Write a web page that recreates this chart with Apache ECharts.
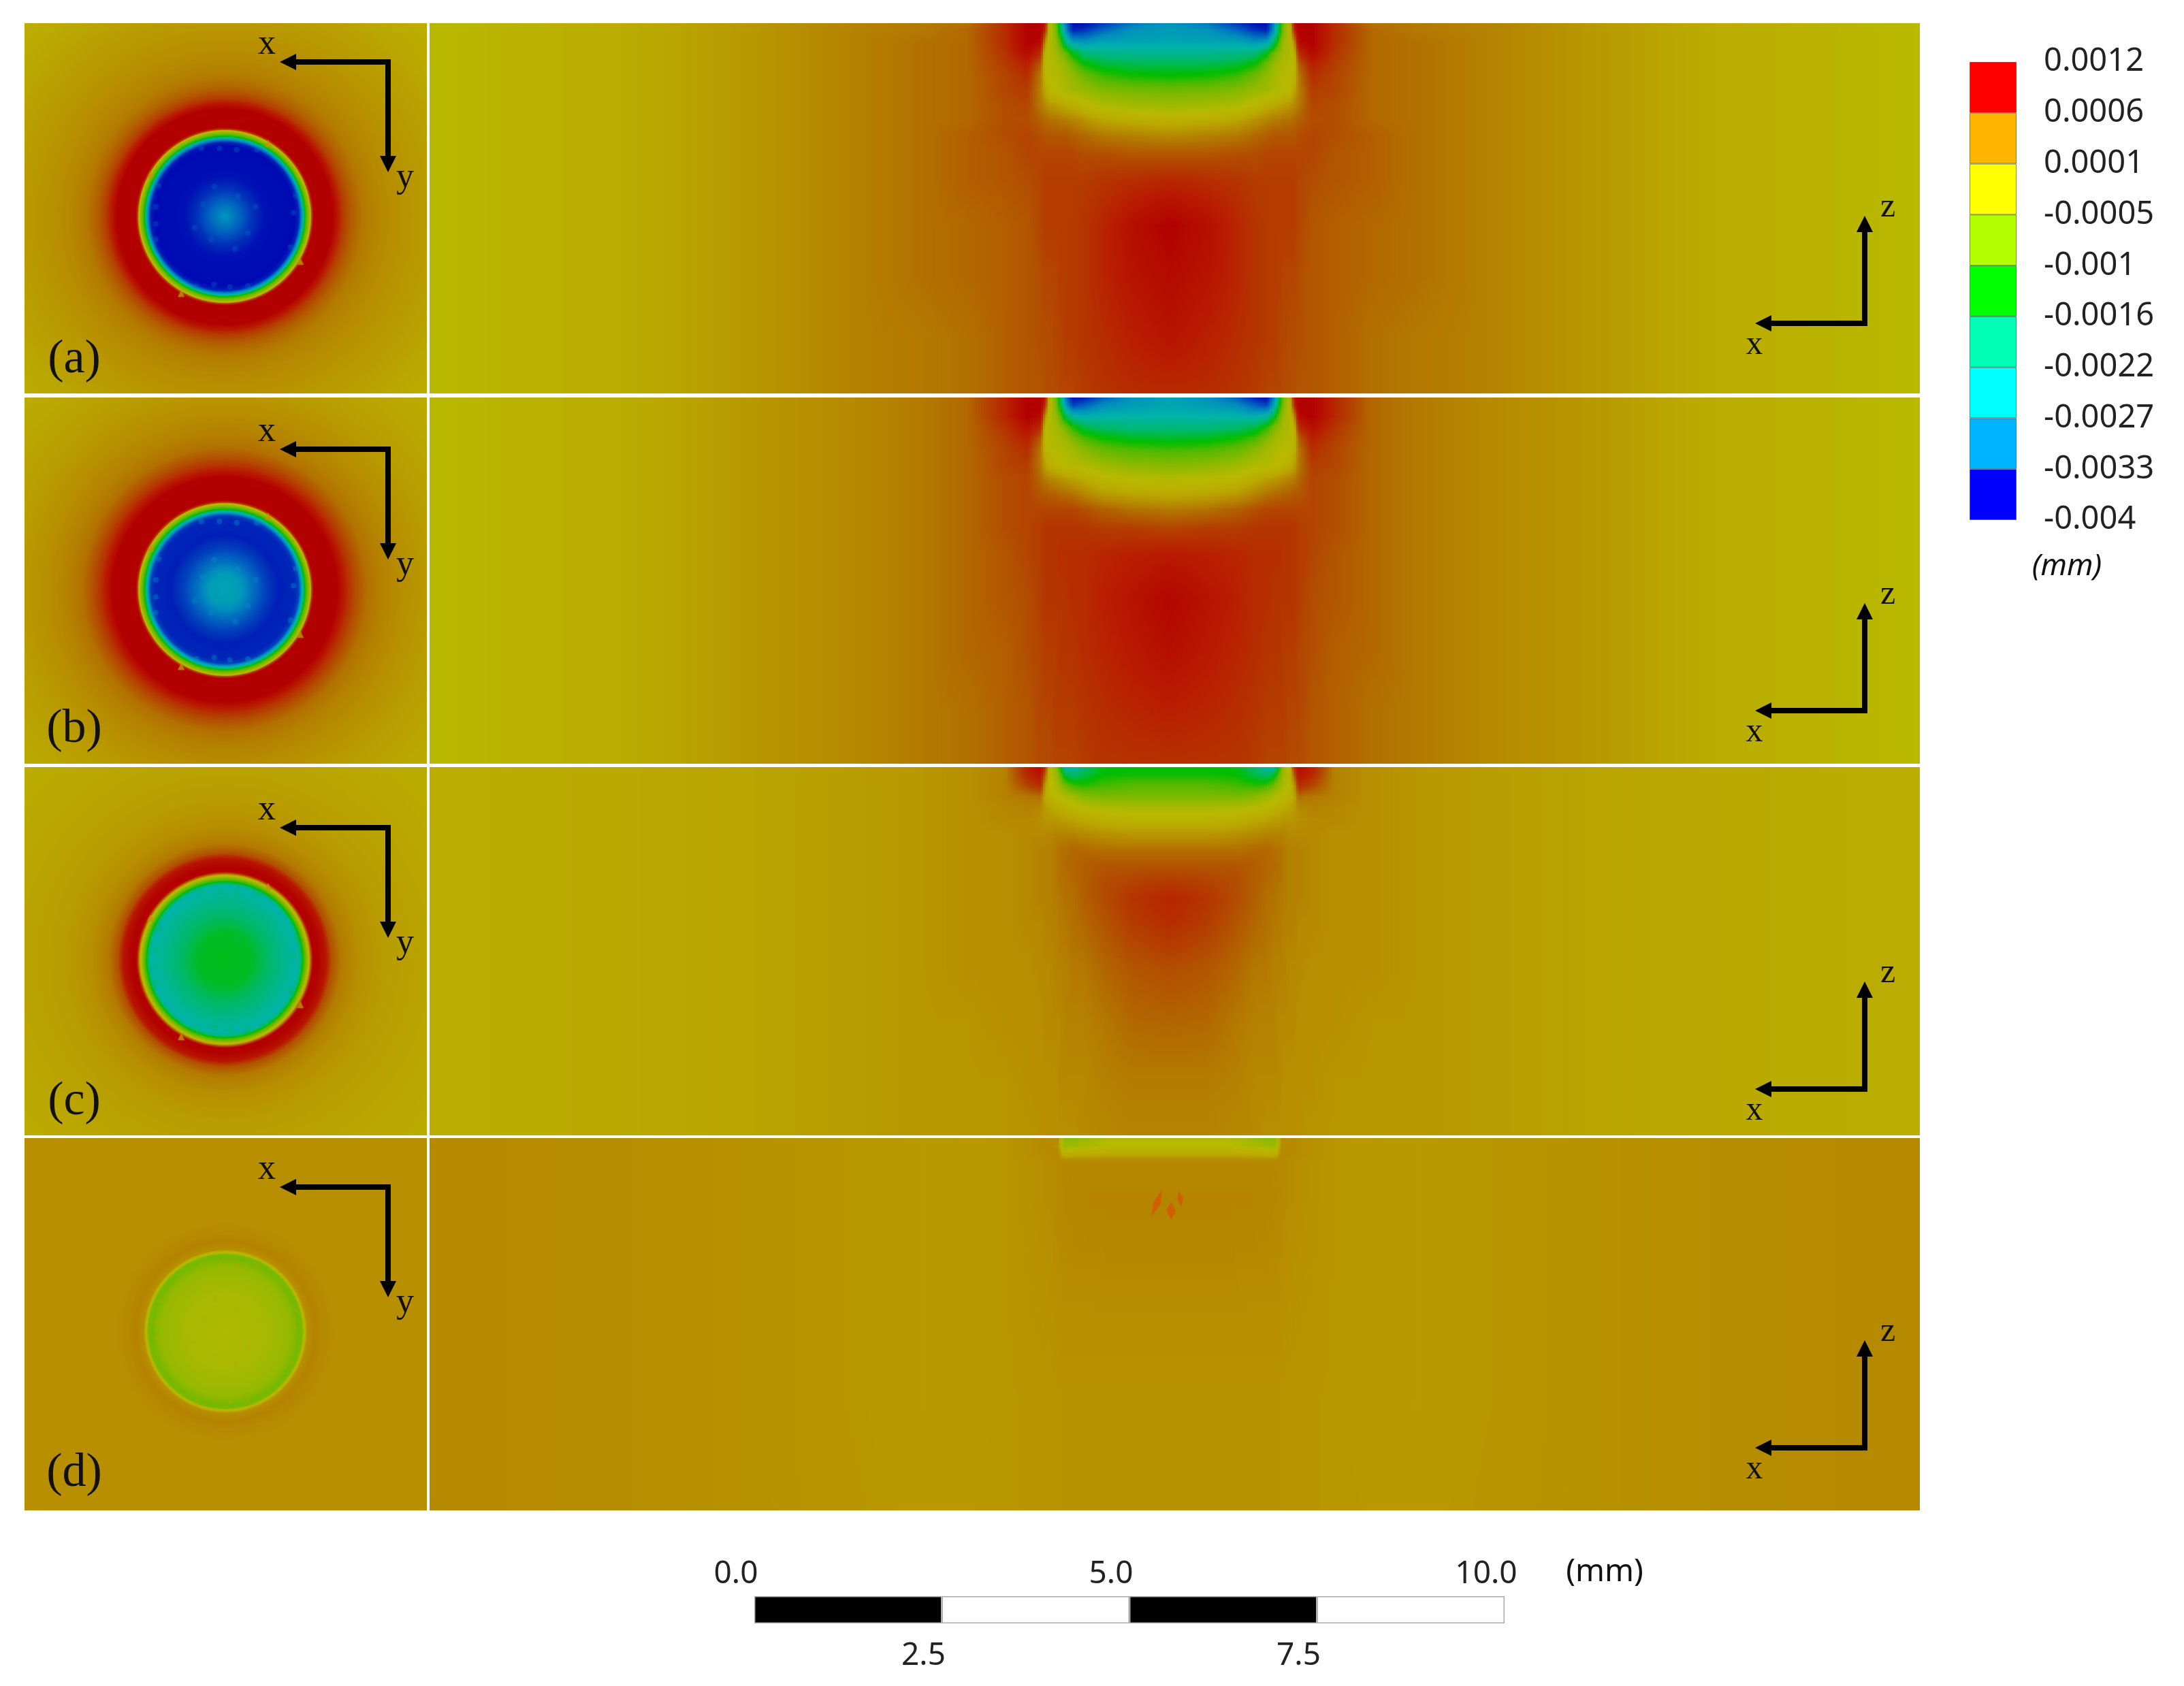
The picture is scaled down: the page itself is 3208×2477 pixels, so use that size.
<!DOCTYPE html>
<html>
<head>
<meta charset="utf-8">
<style>
html, body { margin: 0; padding: 0; background: #fff; }
#main { width: 3208px; height: 2477px; }
</style>
<script src="https://cdn.jsdelivr.net/npm/echarts@6/dist/echarts.min.js"></script>
</head>
<body>
<div id="main"></div>
<script>
// all displacement values below are in 1e-4 mm, distances in mm

// contour legend
var legendTicks = ['0.0012', '0.0006', '0.0001', '-0.0005', '-0.001', '-0.0016', '-0.0022', '-0.0027', '-0.0033', '-0.004'];
var legendColors = ['#ff0000', '#ffb400', '#ffff00', '#b4ff00', '#00ff00', '#00ffb4', '#00ffff', '#00b4ff', '#0000ff'];

// colours as they appear in the (darker) plots
var fieldLevels = [-38, -33, -28, -23, -18, -14, -11, -7, -3, 0, 1.5, 3, 5, 7, 9, 12];
var fieldColors = [
    [0, 10, 180], [0, 80, 190], [0, 140, 190], [0, 180, 170], [0, 185, 100], [0, 190, 0], [80, 185, 0], [140, 185, 0],
    [185, 185, 0], [186, 170, 0], [184, 150, 0], [180, 130, 0], [178, 95, 0], [180, 60, 0], [185, 30, 0], [178, 0, 0]
];

// x-z sections, half table (the section is mirrored about x = 0)
var sideOffsets = [0, 0.5, 0.9, 1.15, 1.3, 1.4, 1.46, 1.52, 1.6, 1.66, 1.72, 1.9, 2.2, 2.7, 3.3, 4.2, 5.5, 7.5, 10.05];
var sideDepths = [0, 0.1, 0.25, 0.4, 0.55, 0.7, 0.9, 1.1, 1.3, 1.5, 1.75, 2.1, 2.7, 3.4, 4.2, 5.0];

var sideA = [
    [-27, -30, -35, -38, -38, -28, -18, -9, -3, 10, 12, 12, 8, 4, 3.5, 3, 1.5, -0.5, -3],
    [-26, -27, -31, -35, -36, -26, -16, -8, -3, 8, 12, 12, 8, 4.5, 3.5, 3, 1.5, -0.5, -3],
    [-25, -25, -25, -27, -26, -18, -11, -6, -3.5, 2, 11, 12, 8, 4.5, 4, 3, 1.5, -0.5, -3],
    [-21, -21, -20.5, -19, -14.5, -9, -7, -5, -4, -2, 8, 11, 7.5, 4.5, 4, 3, 1.5, -0.5, -3],
    [-17, -17, -16, -13.5, -9, -6, -5, -4, -3.5, -3, 5, 9, 7, 4.5, 4, 3, 1.5, -0.5, -3],
    [-14, -13.5, -12, -9, -6.5, -5, -4, -3.5, -3.5, -2, 3.5, 8, 6.5, 4.5, 4, 3, 1.5, -0.5, -3],
    [-9, -8.5, -7.5, -6, -5, -4, -3.5, -3, -2.5, 0, 3, 7, 6.5, 4.5, 4, 3, 1.5, -0.5, -3],
    [-5.5, -5, -4, -2, -0.5, 0, 0.5, 1, 1.5, 2.5, 3.5, 6.5, 6, 4.5, 4, 3, 1.5, -0.5, -3],
    [-1, -0.5, 0.5, 2, 3, 3.5, 3.5, 4, 4, 4.5, 5, 6, 6, 4.5, 4, 3, 1.5, -0.5, -3],
    [2.5, 3, 3.5, 4.5, 5, 5.5, 5.5, 5.5, 5.5, 5.5, 6, 6.5, 6, 5, 4, 3, 1.5, -0.5, -3],
    [5.5, 5.5, 6, 6, 6.5, 6.5, 6.5, 6.5, 6.5, 6.5, 6.5, 6.5, 5.5, 5, 4, 3, 1.5, -0.5, -3],
    [8.5, 8, 7.5, 7, 7, 7, 7, 7, 7, 7, 6.5, 6, 5.5, 5, 4, 3, 1.5, -0.5, -3],
    [12, 10.5, 8.5, 7.5, 7, 7, 7, 7, 7, 7, 6.5, 5.5, 5, 4.5, 4, 3, 1.5, -0.5, -3],
    [11, 10, 8.5, 7.5, 7, 7, 7, 6.5, 6.5, 6.5, 6, 5.5, 5, 4.5, 4, 3, 1.5, -0.5, -3],
    [10, 9, 8, 7.5, 7, 7, 6.5, 6.5, 6, 6, 6, 5.5, 5, 4, 3.5, 3, 1.5, -0.5, -3],
    [8, 8, 7.5, 7, 6.5, 6.5, 6.5, 6, 6, 6, 5.5, 5.5, 5, 4, 3.5, 3, 1.5, -0.5, -3]
];

var sideB = [
    [-25, -27, -32, -37, -38, -28, -18, -9, -3, 10, 12, 12, 8.5, 4.5, 3.5, 2.5, 1.5, -0.5, -3],
    [-25, -26, -28, -32, -34, -25, -15, -8, -3, 8, 12, 12, 8.5, 4.5, 3.5, 2.5, 1.5, -0.5, -3],
    [-23, -23, -23, -24, -22, -16, -10, -6, -3.5, 2, 11, 12, 8.5, 4.5, 3.5, 2.5, 1.5, -0.5, -3],
    [-19.5, -19.5, -18.5, -16.5, -12.5, -8, -6.5, -4.5, -4, -2, 8, 10.5, 7.5, 4.5, 3.5, 2.5, 1.5, -0.5, -3],
    [-15.5, -15, -13.5, -11, -7.5, -5.5, -4.5, -4, -3.5, -3, 5, 9, 7, 4.5, 3.5, 2.5, 1.5, -0.5, -3],
    [-11.5, -11, -9.5, -7, -5, -4, -3.5, -3.5, -3, -1.5, 3.5, 8, 6.5, 4.5, 3.5, 2.5, 1.5, -0.5, -3],
    [-7.5, -7, -5.5, -4, -3.5, -3, -2.5, -2, -1, 0.5, 3.5, 7, 6.5, 4.5, 3.5, 2.5, 1.5, -0.5, -3],
    [-3.5, -3, -2, 0, 1, 1.5, 2, 2.5, 3, 3.5, 4.5, 6.5, 6, 4.5, 3.5, 2.5, 1.5, -0.5, -3],
    [0, 0.5, 1.5, 3, 4, 4.5, 4.5, 5, 5, 5.5, 5.5, 6.5, 6, 4.5, 3.5, 2.5, 1.5, -0.5, -3],
    [3.5, 4, 5, 6, 6.5, 6.5, 6.5, 6.5, 6.5, 6.5, 6.5, 6.5, 6, 4.5, 3.5, 2.5, 1.5, -0.5, -3],
    [6.5, 7, 7, 7.5, 7.5, 7.5, 7.5, 7.5, 7.5, 7.5, 7, 6.5, 6, 4.5, 3.5, 2.5, 1.5, -0.5, -3],
    [9.5, 9, 8.5, 8, 8, 8, 8, 7.5, 7.5, 7.5, 7, 6.5, 5.5, 4.5, 3.5, 2.5, 1.5, -0.5, -3],
    [11.5, 10, 9, 8, 8, 7.5, 7.5, 7.5, 7.5, 7.5, 7, 6, 5.5, 4.5, 3.5, 2.5, 1.5, -0.5, -3],
    [10.5, 9.5, 8.5, 8, 7.5, 7.5, 7.5, 7, 7, 7, 6.5, 6, 5, 4.5, 3.5, 2.5, 1.5, -0.5, -3],
    [9, 8.5, 8, 7.5, 7, 7, 7, 7, 6.5, 6.5, 6.5, 5.5, 5, 4, 3.5, 2.5, 1.5, -0.5, -3],
    [7.5, 7.5, 7.5, 7, 6.5, 6.5, 6.5, 6.5, 6, 6, 6, 5.5, 5, 4, 3.5, 2.5, 1.5, -0.5, -3]
];

var sideC = [
    [-14, -14, -15, -19, -23, -22, -14, -6, -3, 8, 11, 9, 3, 2, 1.5, 1, 0.5, 0, -0.5],
    [-13.5, -13.5, -14, -17, -19, -16, -10, -5, -3, 5, 10, 8.5, 3, 2, 1.5, 1, 0.5, 0, -0.5],
    [-10.5, -10.5, -11.5, -12.5, -11.5, -8.5, -6, -4.5, -2.5, 1, 8, 6.5, 3, 2, 1.5, 1, 0.5, 0, -0.5],
    [-8, -8, -8, -7, -5, -4, -3, -2.5, -1.5, 0, 4, 3.5, 3, 2, 1.5, 1, 0.5, 0, -0.5],
    [-4.5, -4.5, -4, -3, -2, -1, -0.5, 0, 0.5, 1, 2.5, 3, 2.5, 2, 1.5, 1, 0.5, 0, -0.5],
    [-1.5, -1.5, -1, 0, 0.5, 1, 1, 1.5, 1.5, 1.5, 2, 2.5, 2.5, 2, 1.5, 1, 0.5, 0, -0.5],
    [1.5, 1.5, 2, 2.5, 3, 3, 3, 3, 2.5, 2.5, 2.5, 2.5, 2, 2, 1.5, 1, 0.5, 0, -0.5],
    [4, 4, 4, 4.5, 4.5, 4, 4, 3.5, 3, 3, 3, 2.5, 2, 2, 1.5, 1, 0.5, 0, -0.5],
    [5.5, 5.5, 5.5, 5, 4.5, 4.5, 4, 3.5, 3, 3, 3, 2.5, 2, 2, 1.5, 1, 0.5, 0, -0.5],
    [7, 6.5, 6, 5, 4.5, 4, 4, 3.5, 3, 3, 3, 2.5, 2, 2, 1.5, 1, 0.5, 0, -0.5],
    [8.5, 7.5, 6, 5, 4, 4, 3.5, 3.5, 3, 3, 3, 2.5, 2, 2, 1.5, 1, 0.5, 0, -0.5],
    [8, 7, 5.5, 4.5, 4, 3.5, 3.5, 3, 3, 3, 2.5, 2.5, 2, 2, 1.5, 1, 0.5, 0, -0.5],
    [6, 5.5, 4.5, 3.5, 3.5, 3, 3, 3, 2.5, 2.5, 2.5, 2, 2, 2, 1.5, 1, 0.5, 0, -0.5],
    [4.7, 4.5, 3.5, 3, 3, 3, 2.5, 2.5, 2.5, 2.5, 2, 2, 2, 1.5, 1.5, 1, 0.5, 0, -0.5],
    [3.3, 3.3, 3, 2.5, 2.5, 2.5, 2.5, 2, 2, 2, 2, 2, 1.5, 1.5, 1.5, 1, 0.5, 0, -0.5],
    [2.8, 2.8, 2.5, 2.5, 2, 2, 2, 2, 2, 2, 2, 1.5, 1.5, 1.5, 1.5, 1, 0.5, 0, -0.5]
];

// panel (d) is nearly flat so it gets a smaller table
var sideOffsetsD = [0, 0.8, 1.3, 1.42, 1.48, 1.6, 2.2, 3.3, 5.5, 7.5, 10.05];
var sideDepthsD = [0, 0.1, 0.2, 0.3, 0.8, 1.5, 2.5, 3.5, 5.0];
var sideD = [
    [-3.5, -3.5, -7, -7, 2.5, 2.5, 1.5, 1.3, 1.8, 2.2, 2.5],
    [-3, -3, -5.5, -6, 2, 2.5, 1.5, 1.3, 1.8, 2.2, 2.5],
    [-0.5, -0.5, -1, -1.5, 2.5, 2.5, 1.5, 1.3, 1.8, 2.2, 2.5],
    [2.5, 2.5, 2.5, 2.5, 2.5, 2.2, 1.5, 1.3, 1.8, 2.2, 2.5],
    [2.8, 2.8, 2.7, 2.6, 2.5, 2.2, 1.5, 1.3, 1.8, 2.2, 2.5],
    [2.6, 2.6, 2.5, 2.4, 2.3, 2, 1.5, 1.3, 1.8, 2.2, 2.5],
    [2, 2, 2, 2, 2, 1.8, 1.5, 1.3, 1.8, 2.2, 2.5],
    [1.7, 1.7, 1.7, 1.7, 1.7, 1.6, 1.5, 1.3, 1.8, 2.2, 2.5],
    [1.7, 1.7, 1.7, 1.7, 1.7, 1.6, 1.5, 1.4, 1.8, 2.2, 2.5]
];
var streakPoints = [[-0.17, 0.87], [0.02, 0.97], [0.14, 0.81]];

// x-y surface views, radial profiles about the indent centre
var discRadiiA = [0, 0.14, 0.36, 0.54, 0.94, 0.99, 1.025, 1.05, 1.07, 1.11, 1.145, 1.16, 1.19, 1.44, 1.5, 1.58, 1.7, 1.85, 2.1, 2.5, 2.8, 3.9];
var discValuesA = [-27, -30, -35, -37.5, -38, -36, -28, -23, -14, -8, -3, 6, 12, 12, 10, 7, 5, 3.5, 2.5, 1.5, 1, -1];
var discRadiiB = [0, 0.2, 0.36, 0.54, 0.72, 0.94, 0.99, 1.025, 1.05, 1.07, 1.11, 1.145, 1.16, 1.19, 1.5, 1.57, 1.66, 1.75, 1.9, 2.1, 2.4, 2.8, 3.9];
var discValuesB = [-25, -26, -30, -34, -36.5, -36, -34, -26, -21, -14, -8, -3, 6, 12, 12, 10, 7.5, 6, 4, 3, 2, 1, -0.5];
var discRadiiC = [0, 0.36, 0.72, 0.97, 1.02, 1.04, 1.08, 1.12, 1.15, 1.18, 1.24, 1.35, 1.42, 1.55, 1.8, 2.16, 2.7, 3.9];
var discValuesC = [-15, -15.5, -20, -23, -19, -14, -9, -3, 5, 12, 12, 10, 6, 3.5, 2, 1, 0.5, -0.5];
var discRadiiD = [0, 0.5, 0.85, 0.98, 1.03, 1.05, 1.09, 1.2, 1.3, 1.5, 3.9];
var discValuesD = [-4, -4.5, -6, -8.5, -8, -3, 2, 3, 2.5, 2, 2];

// element nodes that show through on the surface views
var nodeSpots = [
    [-0.14, -0.40], [0.18, -0.28], [0.41, -0.13], [-0.29, -0.17], [-0.40, 0.15], [-0.18, 0.31], [0.14, 0.43], [0.31, 0.22],
    [-0.92, -0.13], [-0.92, 0.10], [-0.92, 0.31], [-0.88, -0.41], [0.92, -0.05], [0.95, -0.28], [0.88, 0.41],
    [-0.31, -0.91], [-0.07, -0.91], [0.16, -0.89], [0.43, -0.89], [-0.38, 0.93], [-0.14, 0.91], [0.07, 0.94], [0.31, 0.93]
];
var rimBumps = [[0.58, -0.98], [-0.99, -0.56], [1.01, 0.60], [-0.58, 1.03]];

// scale bar
var scaleSegments = [2.5, 2.5, 2.5, 2.5];
var scaleTopLabels = ['0.0', '5.0', '10.0'];
var scaleBottomLabels = ['2.5', '7.5'];
var panelLetters = ['(a)', '(b)', '(c)', '(d)'];

var PX_PER_MM = 110;
var SERIF = '"Liberation Serif", "Times New Roman", serif';
var SANS = '"Noto Sans", sans-serif';

// pixel layout of the rows
var rows = [
    { top: 34, bottom: 578, cx: 330, cy: 318, axY: 91, axZ: 475, letterY: 529 },
    { top: 584, bottom: 1122, cx: 330, cy: 866, axY: 660, axZ: 1044, letterY: 1072 },
    { top: 1127, bottom: 1668, cx: 330, cy: 1410, axY: 1216, axZ: 1600, letterY: 1619 },
    { top: 1672, bottom: 2219, cx: 331, cy: 1956, axY: 1744, axZ: 2127, letterY: 2165 }
];
var DISC_LEFT = 36, DISC_RIGHT = 627, SIDE_LEFT = 631, SIDE_RIGHT = 2820, SIDE_CX = 1718;

function fieldColor(v) {
    var i = 0;
    if (v <= fieldLevels[0]) return 'rgb(' + fieldColors[0].join(',') + ')';
    while (i < fieldLevels.length - 2 && v > fieldLevels[i + 1]) i++;
    var t = Math.min(1, (v - fieldLevels[i]) / (fieldLevels[i + 1] - fieldLevels[i]));
    var a = fieldColors[i], b = fieldColors[i + 1];
    return 'rgb(' + Math.round(a[0] + (b[0] - a[0]) * t) + ',' + Math.round(a[1] + (b[1] - a[1]) * t) + ',' + Math.round(a[2] + (b[2] - a[2]) * t) + ')';
}

// one item per gap between two table columns, painted as thin strips with a vertical gradient
function sideSeries(gridIndex, offsets, depths, table) {
    var xs = offsets.slice(1).reverse().map(function(x) { return -x; }).concat(offsets);
    var columns = xs.map(function(x) {
        var k = offsets.indexOf(Math.abs(x));
        return table.map(function(r) { return r[k]; });
    });
    var maxDepth = depths[depths.length - 1];
    return {
        type: 'custom',
        xAxisIndex: gridIndex,
        yAxisIndex: gridIndex,
        clip: true,
        silent: true,
        data: xs.slice(0, -1).map(function(x, i) { return [x, xs[i + 1], i]; }),
        renderItem: function(params, api) {
            var i = api.value(2);
            var p0 = api.coord([api.value(0), 0]);
            var p1 = api.coord([api.value(1), maxDepth]);
            var w = p1[0] - p0[0];
            var n = Math.max(1, Math.round(w / 4));
            var children = [];
            for (var j = 0; j < n; j++) {
                var t = (j + 0.5) / n;
                var stops = [];
                for (var k = 0; k < depths.length - 1; k++) {
                    var va = columns[i][k] + (columns[i + 1][k] - columns[i][k]) * t;
                    var vb = columns[i][k + 1] + (columns[i + 1][k + 1] - columns[i][k + 1]) * t;
                    for (var s = 0; s < 4; s++) {
                        stops.push({
                            offset: (depths[k] + (depths[k + 1] - depths[k]) * s / 4) / maxDepth,
                            color: fieldColor(va + (vb - va) * s / 4)
                        });
                    }
                    if (k === depths.length - 2) stops.push({ offset: 1, color: fieldColor(vb) });
                }
                children.push({
                    type: 'rect',
                    shape: { x: p0[0] + w * j / n, y: p0[1], width: w / n + 1, height: p1[1] - p0[1] },
                    style: { fill: new echarts.graphic.LinearGradient(0, 0, 0, 1, stops) }
                });
            }
            return { type: 'group', children: children };
        }
    };
}

// rings painted from the outside in, each with a radial gradient up to its outer radius
function discSeries(gridIndex, radii, values) {
    var data = radii.slice(1).map(function(r, i) { return [0, 0, radii[i], r, values[i], values[i + 1]]; }).reverse();
    return {
        type: 'custom',
        xAxisIndex: gridIndex,
        yAxisIndex: gridIndex,
        clip: true,
        silent: true,
        data: data,
        renderItem: function(params, api) {
            var c = api.coord([api.value(0), api.value(1)]);
            var rOut = api.size([api.value(3), 0])[0];
            var ratio = api.value(2) / api.value(3);
            var stops = [];
            for (var s = 0; s <= 8; s++) {
                stops.push({
                    offset: ratio + (1 - ratio) * s / 8,
                    color: fieldColor(api.value(4) + (api.value(5) - api.value(4)) * s / 8)
                });
            }
            return {
                type: 'circle',
                shape: { cx: c[0], cy: c[1], r: rOut },
                style: { fill: new echarts.graphic.RadialGradient(c[0], c[1], rOut, stops, true) }
            };
        }
    };
}

function spots(gridIndex, points, color, size, symbol, blur) {
    return {
        type: 'scatter',
        xAxisIndex: gridIndex,
        yAxisIndex: gridIndex,
        silent: true,
        symbol: symbol,
        symbolSize: size,
        data: points,
        itemStyle: { color: color, shadowBlur: blur, shadowColor: color }
    };
}

var grids = [], xAxes = [], yAxes = [], series = [];

function addPanel(left, right, top, bottom, xMin, xMax, yMin, yMax) {
    grids.push({ left: left, top: top, width: right - left, height: bottom - top, containLabel: false });
    xAxes.push({ type: 'value', gridIndex: grids.length - 1, min: xMin, max: xMax, show: false });
    yAxes.push({ type: 'value', gridIndex: grids.length - 1, min: yMin, max: yMax, inverse: true, show: false });
    return grids.length - 1;
}

var discTables = [[discRadiiA, discValuesA], [discRadiiB, discValuesB], [discRadiiC, discValuesC], [discRadiiD, discValuesD]];
var sideTables = [[sideOffsets, sideDepths, sideA], [sideOffsets, sideDepths, sideB], [sideOffsets, sideDepths, sideC], [sideOffsetsD, sideDepthsD, sideD]];
var spotColors = ['rgba(0,110,195,0.4)', 'rgba(0,140,195,0.5)', 'rgba(0,190,70,0.35)', 'rgba(190,165,0,0.4)'];

rows.forEach(function(row, i) {
    var g = addPanel(DISC_LEFT, DISC_RIGHT, row.top, row.bottom,
        (DISC_LEFT - row.cx) / PX_PER_MM, (DISC_RIGHT - row.cx) / PX_PER_MM,
        (row.top - row.cy) / PX_PER_MM, (row.bottom - row.cy) / PX_PER_MM);
    series.push(discSeries(g, discTables[i][0], discTables[i][1]));
    series.push(spots(g, nodeSpots, spotColors[i], i === 3 ? 6 : 8, 'circle', 10));
    if (i < 3) series.push(spots(g, rimBumps, 'rgba(190,150,0,0.8)', 10, 'triangle', 2));

    var s = addPanel(SIDE_LEFT, SIDE_RIGHT, row.top, row.bottom,
        (SIDE_LEFT - SIDE_CX) / PX_PER_MM, (SIDE_RIGHT - SIDE_CX) / PX_PER_MM,
        0, (row.bottom - row.top) / PX_PER_MM);
    series.push(sideSeries(s, sideTables[i][0], sideTables[i][1], sideTables[i][2]));
    if (i === 3) {
        series.push({
            type: 'scatter',
            xAxisIndex: s,
            yAxisIndex: s,
            silent: true,
            symbol: 'diamond',
            data: streakPoints,
            symbolSize: function(v, p) { return [[11, 42], [14, 26], [9, 24]][p.dataIndex]; },
            symbolRotate: function(v, p) { return [-22, 0, 10][p.dataIndex]; },
            itemStyle: { color: '#d65500' }
        });
    }
});

// contour legend: stacked bar on an evenly spaced axis
grids.push({ left: 2893, top: 91, width: 69, height: 673 });
var legendIndex = grids.length - 1;
xAxes.push({ type: 'category', gridIndex: legendIndex, data: ['u'], show: false });
yAxes.push({
    type: 'value', gridIndex: legendIndex, position: 'right', inverse: true, min: 0, max: 9, interval: 1,
    axisLine: { show: false }, axisTick: { show: false }, splitLine: { show: false },
    axisLabel: {
        margin: 40, align: 'left', fontSize: 47, fontFamily: SANS, color: '#222',
        showMinLabel: true, showMaxLabel: true, hideOverlap: false, padding: [5, 0, 0, 0],
        formatter: function(v) { return legendTicks[v]; }
    }
});
legendColors.forEach(function(c) {
    series.push({
        type: 'bar', xAxisIndex: legendIndex, yAxisIndex: legendIndex, stack: 'legend', silent: true,
        barWidth: '100%', data: [1], itemStyle: { color: c, borderColor: 'rgba(60,60,60,0.6)', borderWidth: 1 }
    });
});

// scale bar: stacked bar with labels above and below
grids.push({ left: 1108, top: 2345, width: 1102, height: 40 });
var scaleIndex = grids.length - 1;
var scaleLabelStyle = { fontSize: 46, fontFamily: SANS, color: '#222', showMinLabel: true, showMaxLabel: true, hideOverlap: false, padding: [0, 54, 0, 0] };
xAxes.push({
    type: 'value', gridIndex: scaleIndex, position: 'top', min: 0, max: 10, interval: 5,
    axisLine: { show: false }, axisTick: { show: false }, splitLine: { show: false },
    axisLabel: Object.assign({ margin: 9, formatter: function(v) { return scaleTopLabels[v / 5]; } }, scaleLabelStyle)
});
xAxes.push({
    type: 'value', gridIndex: scaleIndex, position: 'bottom', min: 0, max: 10, interval: 2.5,
    axisLine: { show: false }, axisTick: { show: false }, splitLine: { show: false },
    axisLabel: Object.assign({ margin: 25, formatter: function(v) { return v === 2.5 ? scaleBottomLabels[0] : v === 7.5 ? scaleBottomLabels[1] : ''; } }, scaleLabelStyle)
});
yAxes.push({ type: 'category', gridIndex: scaleIndex, data: ['mm'], show: false });
var scaleY = yAxes.length - 1;
scaleSegments.forEach(function(w, i) {
    series.push({
        type: 'bar', xAxisIndex: scaleIndex, yAxisIndex: scaleY, stack: 'scale', silent: true,
        barWidth: '100%', data: [w],
        itemStyle: { color: i % 2 ? '#fff' : '#000', borderColor: '#aaa', borderWidth: 1.5 }
    });
});

// axis triads and labels
var elements = [];

function label(text, x, y, size, family, style) {
    elements.push({
        type: 'text', x: x, y: y, z: 100, silent: true,
        style: { text: text, fontSize: size, fontFamily: family, fontStyle: style || 'normal', fill: '#111', align: 'center', verticalAlign: 'middle' }
    });
}

function arrow(x0, y0, x1, y1) {
    var len = Math.sqrt((x1 - x0) * (x1 - x0) + (y1 - y0) * (y1 - y0));
    var ux = (x1 - x0) / len, uy = (y1 - y0) / len;
    var bx = x1 - ux * 24, by = y1 - uy * 24;
    elements.push({ type: 'line', z: 100, silent: true, shape: { x1: x0 + (uy === 0 ? ux * -4 : 0), y1: y0 + (ux === 0 ? uy * -4 : 0), x2: bx, y2: by }, style: { stroke: '#000', lineWidth: 8 } });
    elements.push({ type: 'polygon', z: 100, silent: true, shape: { points: [[x1, y1], [bx - uy * 12, by + ux * 12], [bx + uy * 12, by - ux * 12]] }, style: { fill: '#000' } });
}

rows.forEach(function(row, i) {
    arrow(570, row.axY, 411, row.axY);
    arrow(570, row.axY, 570, row.axY + 162);
    label('x', 392, row.axY - 26, 52, SERIF);
    label('y', 595, row.axY + 170, 52, SERIF);
    label(panelLetters[i], 109, row.letterY, 70, SERIF);

    arrow(2739, row.axZ, 2578, row.axZ);
    arrow(2739, row.axZ, 2739, row.axZ - 158);
    label('z', 2773, row.axZ - 170, 50, SERIF);
    label('x', 2577, row.axZ + 32, 50, SERIF);
});
label('(mm)', 3036, 832, 44, SANS, 'italic');
label('(mm)', 2357, 2310, 46, SANS);

var myChart = echarts.init(document.getElementById('main'), null, { renderer: 'canvas' });
myChart.setOption({
    backgroundColor: '#fff',
    animation: false,
    grid: grids,
    xAxis: xAxes,
    yAxis: yAxes,
    series: series,
    graphic: { elements: elements }
});
</script>
</body>
</html>
